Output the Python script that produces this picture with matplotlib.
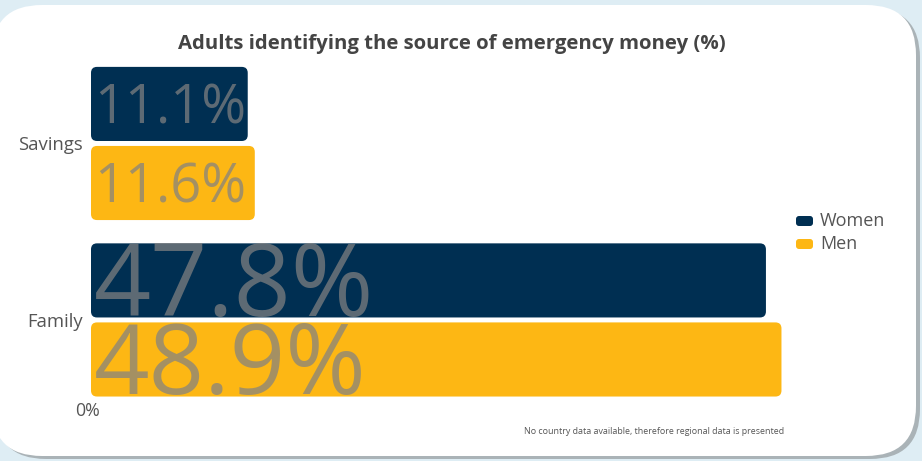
import matplotlib
matplotlib.use("Agg")
import matplotlib.pyplot as plt
from matplotlib.patches import FancyBboxPatch
from matplotlib.transforms import ScaledTranslation

# ---- data ----
categories = ["Savings", "Family"]
series_names = ["Women", "Men"]
women = [11.1, 47.8]
men = [11.6, 48.9]
label_sizes_women = [39, 72]
label_sizes_men = [39, 70]
title = "Adults identifying the source of emergency money (%)"
footnote = "No country data available, therefore regional data is presented"
x_ticks = [0]
x_tick_labels = ["0%"]

NAVY = "#002f52"
YELLOW = "#fdb714"
TXT = "#555555"
FONT = "Open Sans"

W, H = 922, 461
fig = plt.figure(figsize=(W / 100, H / 100), dpi=100)
fig.patch.set_facecolor("#deedf4")

# card shadow + card (display pixel coords, origin bottom-left)
shadow = FancyBboxPatch((-4, 2), 924, 451, boxstyle="round,pad=0,rounding_size=50",
                        transform=None, facecolor="#aab3b7", edgecolor="none", zorder=0)
card = FancyBboxPatch((-8, 5), 924, 451, boxstyle="round,pad=0,rounding_size=50",
                      transform=None, facecolor="white", edgecolor="none", zorder=1)
fig.add_artist(shadow)
fig.add_artist(card)

# axes placement in pixels
ax_left, ax_right = 91, 796
ax_top, ax_bot = 60, 405
ax = fig.add_axes([ax_left / W, (H - ax_bot) / H, (ax_right - ax_left) / W, (ax_bot - ax_top) / H])
ax.set_facecolor("none")
ax.set_zorder(2)
xmax = (ax_right - ax_left) / 14.12
ax.set_xlim(0, xmax)
ax.set_ylim(1.482, -0.473)

off = 0.224
h = 0.42
ys = list(range(len(categories)))
bars_w = ax.barh([y - off for y in ys], women, height=h, color=NAVY)
bars_m = ax.barh([y + off for y in ys], men, height=h, color=YELLOW)

px_x = (ax_right - ax_left) / xmax
px_y = (ax_bot - ax_top) / (1.482 + 0.473)
aspect = px_x / px_y
r = 6 / px_x
for bars in (bars_w, bars_m):
    for b in bars:
        b.set_visible(False)
        p = FancyBboxPatch((b.get_x(), b.get_y()), b.get_width(), b.get_height(),
                           boxstyle=f"round,pad=0,rounding_size={r}",
                           mutation_aspect=aspect, facecolor=b.get_facecolor(),
                           edgecolor="none")
        ax.add_patch(p)

# value labels (big, grey, translucent)
def add_labels(vals, yy, sizes):
    for v, y, fs in zip(vals, yy, sizes):
        tr = ax.transData + ScaledTranslation(0.03, -0.357 * fs / 72, fig.dpi_scale_trans)
        ax.text(0, y, f"{v}%", transform=tr, fontsize=fs, family=FONT,
                color="#828282", alpha=0.72, ha="left", va="baseline")

add_labels(women, [y - off for y in ys], label_sizes_women)
add_labels(men, [y + off for y in ys], label_sizes_men)

ax.set_yticks(ys)
ax.set_yticklabels(categories, family=FONT, fontsize=13.3, color=TXT)
ax.set_xticks(x_ticks)
ax.set_xticklabels(x_tick_labels, family=FONT, fontsize=12.8, color=TXT)
ax.tick_params(axis="y", length=0, pad=6)
ax.tick_params(axis="x", length=0, pad=-2)
for lbl in ax.get_xticklabels():
    lbl.set_transform(lbl.get_transform() + ScaledTranslation(-0.03, 0, fig.dpi_scale_trans))
for s in ax.spines.values():
    s.set_visible(False)

# title
fig.text(452 / W, 1 - 44 / H, title, ha="center", va="center", family=FONT,
         fontweight="bold", fontsize=14.7, color="#444444")

# legend
lx, ly0, dy = 796, 221, 23
for i, (name, col) in enumerate(zip(series_names, [NAVY, YELLOW])):
    yc = H - (ly0 + i * dy)
    fig.add_artist(FancyBboxPatch((lx, yc - 5), 17, 10, boxstyle="round,pad=0,rounding_size=3",
                                  transform=None, facecolor=col, edgecolor="none", zorder=3))
    fig.text((lx + 24) / W, yc / H, name, ha="left", va="center", family=FONT,
             fontsize=13, color=TXT, zorder=3)

# footnote
fig.text(784 / W, 1 - 431 / H, footnote, ha="right", va="center", family=FONT,
         fontsize=6.4, color=TXT, zorder=3)

fig.savefig("out.png", dpi=100, facecolor=fig.get_facecolor())
